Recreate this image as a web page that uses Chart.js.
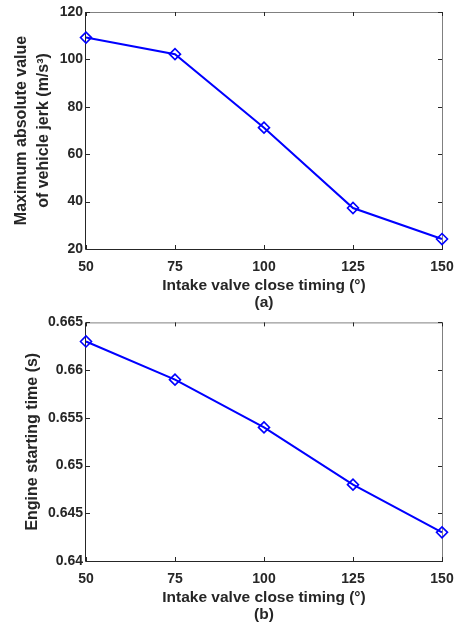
<!DOCTYPE html>
<html>
<head>
<meta charset="utf-8">
<script src="https://cdn.jsdelivr.net/npm/chart.js@4/dist/chart.umd.min.js"></script>
<style>
  body { margin: 0; background: #fff; }
  .panel { position: absolute; left: 0; width: 464px; }
</style>
</head>
<body>
<div class="panel" style="top:0;height:311px"><canvas id="chartA" width="464" height="311"></canvas></div>
<div class="panel" style="top:311px;height:312px"><canvas id="chartB" width="464" height="312"></canvas></div>
<script>
const timing = [50, 75, 100, 125, 150];
const jerkMax = [109.2, 102.2, 71.2, 37.3, 24.2];
const startTime = [0.663, 0.659, 0.654, 0.648, 0.643];
const xTicks = [50, 75, 100, 125, 150];
const jerkTicks = [20, 40, 60, 80, 100, 120];
const timeTicks = [0.64, 0.645, 0.65, 0.655, 0.66, 0.665];

const FONT = '"Liberation Sans", Arial, sans-serif';
const TEXT = '#262626';

// matlab style box: dark left/bottom, grey top/right, ticks pointing inward
const matlabBox = {
  id: 'matlabBox',
  beforeDatasetsDraw(chart) {
    const { ctx, chartArea: a, scales } = chart;
    const len = 4;
    ctx.save();
    ctx.lineWidth = 1;
    ctx.strokeStyle = '#808080';
    ctx.beginPath();
    ctx.moveTo(a.left, a.top + 0.5);
    ctx.lineTo(a.right + 0.5, a.top + 0.5);
    ctx.lineTo(a.right + 0.5, a.bottom);
    ctx.stroke();
    ctx.strokeStyle = TEXT;
    ctx.beginPath();
    ctx.moveTo(a.left - 0.5, a.top);
    ctx.lineTo(a.left - 0.5, a.bottom + 0.5);
    ctx.lineTo(a.right + 1, a.bottom + 0.5);
    ctx.stroke();
    ctx.beginPath();
    scales.x.ticks.forEach(t => {
      const px = Math.round(scales.x.getPixelForValue(t.value)) + 0.5;
      ctx.moveTo(px, a.bottom); ctx.lineTo(px, a.bottom - len);
      ctx.moveTo(px, a.top); ctx.lineTo(px, a.top + len);
    });
    scales.y.ticks.forEach(t => {
      const py = Math.round(scales.y.getPixelForValue(t.value)) + 0.5;
      ctx.moveTo(a.left, py); ctx.lineTo(a.left + len, py);
      ctx.moveTo(a.right, py); ctx.lineTo(a.right - len, py);
    });
    ctx.stroke();
    ctx.restore();
  }
};

function makeChart(id, values, yTicks, yTitle, yTitlePad, xTitle, padTop) {
  return new Chart(document.getElementById(id), {
    type: 'line',
    data: {
      datasets: [{
        data: timing.map((x, i) => ({ x: x, y: values[i] })),
        borderColor: '#0000ff',
        borderWidth: 2,
        pointStyle: 'rectRot',
        pointRadius: 5.5,
        pointBorderWidth: 1.6,
        pointBackgroundColor: 'rgba(0,0,0,0)',
        pointBorderColor: '#0000ff',
        tension: 0,
        clip: false,
      }],
    },
    options: {
      responsive: false,
      animation: false,
      events: [],
      layout: { padding: { top: padTop, right: 22, bottom: 0, left: 0 } },
      plugins: { legend: { display: false }, tooltip: { enabled: false } },
      scales: {
        x: {
          type: 'linear',
          min: xTicks[0],
          max: xTicks[xTicks.length - 1],
          afterBuildTicks: s => { s.ticks = xTicks.map(v => ({ value: v })); },
          afterFit: s => { s.height = 62; },
          grid: { display: false, drawTicks: false },
          border: { display: false },
          ticks: {
            padding: 10,
            color: TEXT,
            font: { family: FONT, size: 14, weight: 'bold' },
            callback: v => String(v),
          },
          title: {
            display: true,
            text: xTitle,
            color: TEXT,
            padding: 0,
            font: { family: FONT, size: 15.5, weight: 'bold', lineHeight: 1.1 },
          },
        },
        y: {
          min: yTicks[0],
          max: yTicks[yTicks.length - 1],
          afterBuildTicks: s => { s.ticks = yTicks.map(v => ({ value: v })); },
          afterFit: s => { s.width = 86; },
          grid: { display: false, drawTicks: false },
          border: { display: false },
          ticks: {
            padding: 3,
            color: TEXT,
            font: { family: FONT, size: 14, weight: 'bold' },
            callback: v => String(v),
          },
          title: {
            display: true,
            text: yTitle,
            color: TEXT,
            padding: { top: yTitlePad, bottom: 0 },
            font: { family: FONT, size: 16, weight: 'bold', lineHeight: 1.375 },
          },
        },
      },
    },
    plugins: [matlabBox],
  });
}

makeChart('chartA', jerkMax, jerkTicks,
  ['Maximum absolute value', 'of vehicle jerk (m/s\u00b3)'], 10.5,
  ['Intake valve close timing (\u00b0)', '(a)'], 12);
makeChart('chartB', startTime, timeTicks,
  'Engine starting time (s)', 21.5,
  ['Intake valve close timing (\u00b0)', '(b)'], 11);
</script>
</body>
</html>
